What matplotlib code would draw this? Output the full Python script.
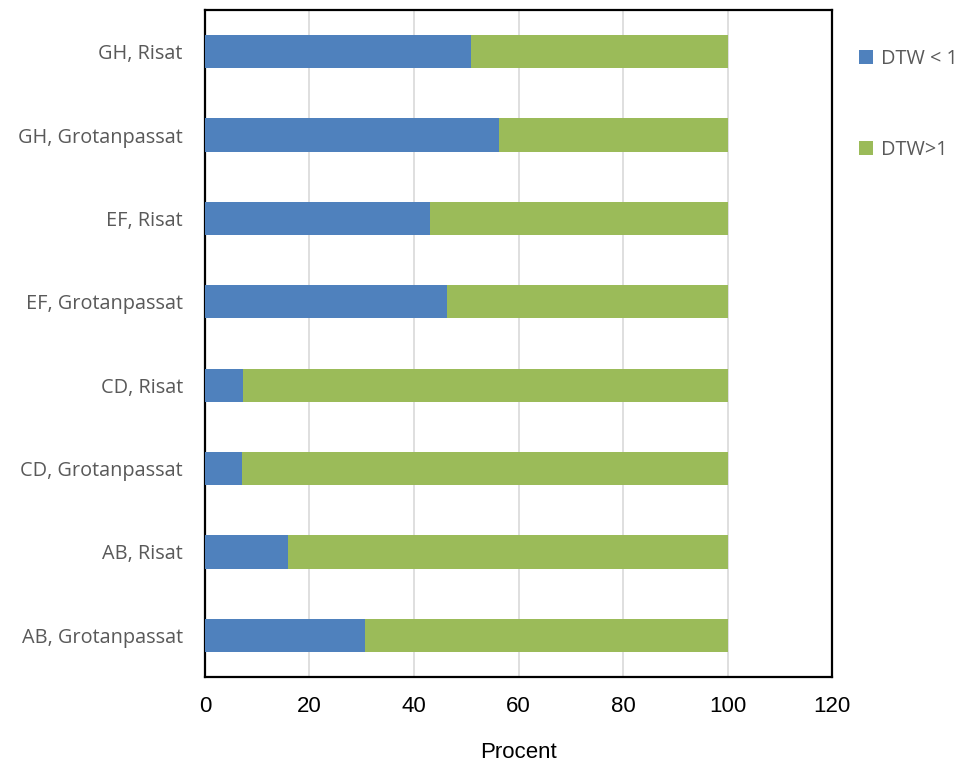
import matplotlib.pyplot as plt
import numpy as np

# categories, bottom to top
sites = ["AB, Grotanpassat", "AB, Risat", "CD, Grotanpassat", "CD, Risat",
         "EF, Grotanpassat", "EF, Risat", "GH, Grotanpassat", "GH, Risat"]
dtw_below_1 = [30.7, 15.8, 7.0, 7.2, 46.4, 43.1, 56.3, 50.9]
dtw_above_1 = [69.3, 84.2, 93.0, 92.8, 53.6, 56.9, 43.7, 49.1]

blue = "#4F81BD"
green = "#9BBB59"
label_font = ["Open Sans", "DejaVu Sans"]
num_font = ["Liberation Sans", "DejaVu Sans"]

fig = plt.figure(figsize=(9.66, 7.67), dpi=100, facecolor="white")
ax = fig.add_axes([0.2122, 0.1173, 0.6491, 0.8697])

y = np.arange(len(sites))
b1 = ax.barh(y, dtw_below_1, height=0.4, color=blue, label="DTW < 1", zorder=3)
b2 = ax.barh(y, dtw_above_1, left=dtw_below_1, height=0.4, color=green,
             label="DTW>1", zorder=3)

ax.set_xlim(0, 120)
ax.set_ylim(-0.5, len(sites) - 0.5)
ax.set_xticks(np.arange(0, 121, 20))
ax.set_yticks(y)
ax.set_yticklabels(sites, family=label_font, fontsize=14.3, color="#595959")
for lbl in ax.get_xticklabels():
    lbl.set_family(num_font)
    lbl.set_fontsize(16)
ax.tick_params(axis="both", length=0)
ax.tick_params(axis="x", pad=14)
ax.tick_params(axis="y", pad=16)

ax.grid(axis="x", color="#d9d9d9", linewidth=1.2, zorder=0)
for sp in ax.spines.values():
    sp.set_color("black")
    sp.set_linewidth(1.6)

ax.set_xlabel("Procent", family=num_font, fontsize=16, labelpad=18)

ax.legend(handles=[b1, b2], loc="upper left", bbox_to_anchor=(0.889, 0.936),
          bbox_transform=fig.transFigure, frameon=False, borderpad=0,
          borderaxespad=0, handlelength=0.7, handleheight=0.7,
          handletextpad=0.4, labelspacing=3.55,
          prop={"family": label_font, "size": 14.3}, labelcolor="#595959")

fig.savefig("out.png", dpi=100)
